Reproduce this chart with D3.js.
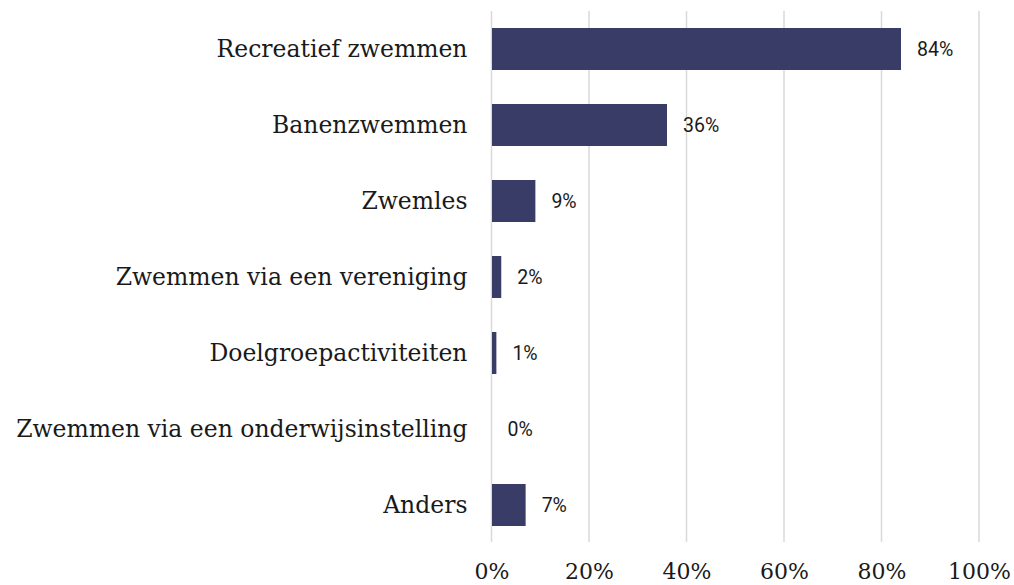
<!DOCTYPE html>
<html>
<head>
<meta charset="utf-8">
<script src="https://cdn.jsdelivr.net/npm/d3@7"></script>
<style>
  body { margin: 0; background: #fff; }
</style>
</head>
<body>
<svg id="chart"></svg>
<script>
// activiteiten en aandeel (%)
const categories = ['Recreatief zwemmen', 'Banenzwemmen', 'Zwemles', 'Zwemmen via een vereniging',
    'Doelgroepactiviteiten', 'Zwemmen via een onderwijsinstelling', 'Anders'];
const values = [84, 36, 9, 2, 1, 0, 7];
const ticks = [0, 20, 40, 60, 80, 100];

const width = 1014, height = 585;
const svg = d3.select('#chart')
    .attr('width', width)
    .attr('height', height);

const xScale = d3.scaleLinear()
    .domain([0, 100])
    .range([491.5, 979]);

const yScale = d3.scaleBand()
    .domain(categories)
    .range([11, 543])
    .paddingInner(0.4474)
    .paddingOuter(0.2237);

// gridlines
svg.append('g')
    .selectAll('line')
    .data(ticks)
    .enter()
    .append('line')
    .attr('x1', d => xScale(d))
    .attr('x2', d => xScale(d))
    .attr('y1', 11)
    .attr('y2', 542)
    .attr('stroke', '#d9d9d9')
    .attr('stroke-width', 1.5);

// bars
svg.append('g')
    .selectAll('rect')
    .data(values)
    .enter()
    .append('rect')
    .attr('x', xScale(0) + 0.5)
    .attr('y', (d, i) => yScale(categories[i]))
    .attr('width', d => Math.max(0, xScale(d) - xScale(0) - 0.5))
    .attr('height', yScale.bandwidth())
    .attr('fill', '#393c67');

// value labels
svg.append('g')
    .selectAll('text')
    .data(values)
    .enter()
    .append('text')
    .attr('x', d => xScale(d) + 16)
    .attr('y', (d, i) => yScale(categories[i]) + yScale.bandwidth() / 2)
    .attr('dy', '0.36em')
    .attr('font-family', 'Roboto, sans-serif')
    .attr('font-size', 19.5)
    .attr('fill', '#1a1a1a')
    .text(d => d + '%');

// category axis
const yAxis = d3.axisLeft(yScale).tickSize(0).tickPadding(24);
svg.append('g')
    .attr('transform', `translate(${xScale(0)}, 0)`)
    .call(yAxis)
    .call(g => g.select('.domain').remove())
    .selectAll('text')
    .attr('font-family', '"DejaVu Serif", serif')
    .attr('font-size', 23.5)
    .attr('fill', '#1a1a1a');

// percentage axis
const xAxis = d3.axisBottom(xScale)
    .tickValues(ticks)
    .tickFormat(d => d + '%')
    .tickSize(0)
    .tickPadding(0);
svg.append('g')
    .attr('transform', 'translate(0, 563)')
    .call(xAxis)
    .call(g => g.select('.domain').remove())
    .selectAll('text')
    .attr('font-family', '"DejaVu Serif", serif')
    .attr('font-size', 22)
    .attr('fill', '#1a1a1a');
</script>
</body>
</html>
